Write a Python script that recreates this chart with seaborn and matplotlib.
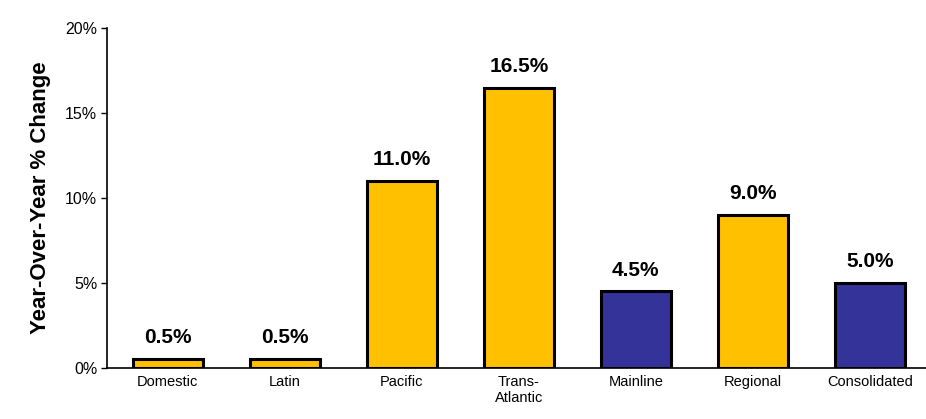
import matplotlib
matplotlib.use("Agg")
import matplotlib.pyplot as plt
import seaborn as sns
import pandas as pd
from matplotlib.ticker import FuncFormatter

categories = ["Domestic", "Latin", "Pacific", "Trans-\nAtlantic", "Mainline", "Regional", "Consolidated"]
changes = [0.5, 0.5, 11.0, 16.5, 4.5, 9.0, 5.0]
groups = ["region", "region", "region", "region", "total", "region", "total"]

YELLOW = "#FFC000"
BLUE = "#333399"

df = pd.DataFrame({"category": categories, "change": changes, "group": groups})

sns.set_style("white")
plt.rcParams["font.family"] = ["Liberation Sans", "DejaVu Sans"]
plt.rcParams["text.color"] = "black"
plt.rcParams["xtick.color"] = "black"
plt.rcParams["ytick.color"] = "black"
plt.rcParams["axes.labelcolor"] = "black"

fig = plt.figure(figsize=(9.26, 4.19), dpi=100)
ax = fig.add_axes([0.1156, 0.122, 0.8844, 0.811])

sns.barplot(data=df, x="category", y="change", hue="group",
	palette={"region": YELLOW, "total": BLUE}, saturation=1,
	dodge=False, width=0.6, edgecolor="black", linewidth=2.2,
	legend=False, ax=ax)

for i, v in enumerate(changes):
	ax.text(i, v + 0.7, f"{v:.1f}%", ha="center", va="bottom",
		fontsize=15, fontweight="bold")

ax.set_ylim(0, 20)
ax.set_xlim(-0.52, 6.48)
ax.set_yticks([0, 5, 10, 15, 20])
ax.yaxis.set_major_formatter(FuncFormatter(lambda v, p: f"{v:.0f}%"))
ax.set_xlabel("")
ax.set_ylabel("Year-Over-Year % Change", fontsize=16, fontweight="bold", labelpad=10)
ax.tick_params(axis="x", labelsize=10.5, length=0, pad=5)
ax.tick_params(axis="y", labelsize=11.5, length=4, direction="out", left=True, width=1, pad=3)

sns.despine(ax=ax)
for s in ["left", "bottom"]:
	ax.spines[s].set_color("black")
	ax.spines[s].set_linewidth(1.2)

fig.savefig("out.png", dpi=100)
